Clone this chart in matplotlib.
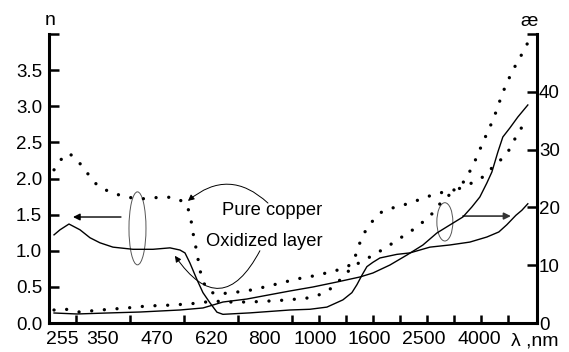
import matplotlib
matplotlib.use('Agg')
import matplotlib.pyplot as plt
from matplotlib.patches import Ellipse
from matplotlib.ticker import FixedLocator
from matplotlib import font_manager

# x is the position along the (non-uniform) wavelength axis, in label steps:
# 0 = left spine, 1 = 350 nm, 2 = 470 nm, ... 8 = 4000 nm
wl_labels = ['255', '350', '470', '620', '800', '1000', '1600', '2500', '4000']
wl_label_pos = [0.25, 1, 2, 3, 4, 4.93, 5.93, 6.95, 7.97]
wl_tick_pos = [0.5 * i for i in range(1, 18)]

# refractive index n, pure copper (dotted)
cu_n_x = [0.093, 0.241, 0.370, 0.519, 0.704, 0.889, 1.130, 1.444, 1.741, 2.056,
          2.296, 2.519, 2.611, 2.667, 2.741, 2.796, 2.870, 2.963, 3.093, 3.407,
          3.778, 4.222, 4.593, 4.963, 5.333, 5.574, 5.667, 5.759, 5.852, 5.981,
          6.167, 6.352, 6.556, 6.833, 7.093, 7.296, 7.556, 7.667, 7.759, 7.833,
          7.926, 8.037, 8.167, 8.296, 8.389, 8.481, 8.574, 8.667, 8.759, 8.870]
cu_n = [2.12, 2.28, 2.35, 2.26, 2.08, 1.91, 1.81, 1.74, 1.72, 1.74,
        1.74, 1.67, 1.52, 1.25, 0.97, 0.73, 0.55, 0.44, 0.40, 0.42,
        0.46, 0.54, 0.61, 0.66, 0.73, 0.80, 0.91, 1.11, 1.26, 1.40,
        1.54, 1.59, 1.63, 1.70, 1.77, 1.81, 1.85, 1.94, 2.05, 2.15,
        2.30, 2.50, 2.71, 2.95, 3.16, 3.32, 3.47, 3.60, 3.72, 3.88]

# refractive index n, oxidized layer (solid)
ox_n_x = [0.093, 0.204, 0.370, 0.574, 0.759, 0.944, 1.185, 1.556, 1.926, 2.241,
          2.426, 2.519, 2.611, 2.741, 2.852, 2.981, 3.111, 3.222, 3.722, 4.463,
          4.833, 5.148, 5.444, 5.611, 5.704, 5.796, 5.889, 6.000, 6.130, 6.444,
          6.685, 7.056, 7.426, 7.796, 8.111, 8.333, 8.481, 8.648, 8.759, 8.870]
ox_n = [1.22, 1.29, 1.37, 1.29, 1.18, 1.11, 1.05, 1.02, 1.02, 1.04,
        1.01, 0.97, 0.83, 0.60, 0.42, 0.28, 0.15, 0.12, 0.14, 0.18,
        0.19, 0.22, 0.32, 0.42, 0.53, 0.66, 0.78, 0.84, 0.90, 0.95,
        0.97, 1.05, 1.08, 1.12, 1.19, 1.26, 1.36, 1.49, 1.56, 1.65]

# absorption index (kappa), pure copper (dotted)
cu_k_x = [0.093, 0.296, 0.537, 0.759, 1.074, 1.444, 1.815, 2.296, 2.796, 3.019,
          3.352, 3.722, 4.093, 4.407, 4.796, 5.056, 5.296, 5.481, 5.759, 5.944,
          6.167, 6.370, 6.537, 6.685, 6.926, 7.111, 7.296, 7.463, 7.648, 7.833,
          8.037, 8.167, 8.259, 8.407, 8.500, 8.574, 8.685, 8.815]
cu_k = [2.25, 2.42, 1.90, 2.08, 2.34, 2.60, 2.94, 3.11, 3.46, 3.81,
        3.63, 3.63, 3.81, 3.98, 4.33, 5.02, 6.40, 8.48, 10.55, 11.42,
        12.63, 13.84, 14.88, 15.74, 17.47, 19.03, 21.28, 22.49, 23.53, 24.22,
        25.26, 26.47, 27.34, 28.55, 29.58, 30.80, 32.87, 34.60]

# absorption index (kappa), oxidized layer (solid)
ox_k_x = [0.093, 0.519, 1.074, 1.685, 2.426, 2.852, 3.037, 3.222, 3.667, 3.963,
          4.463, 4.889, 5.333, 5.759, 6.000, 6.315, 6.630, 6.926, 7.185, 7.426,
          7.667, 7.833, 7.981, 8.111, 8.204, 8.315, 8.407, 8.537, 8.685, 8.870]
ox_k = [1.73, 1.56, 1.73, 1.90, 2.25, 2.60, 3.11, 3.63, 4.15, 4.67,
        5.54, 6.23, 7.09, 7.96, 8.65, 10.03, 11.76, 13.49, 15.57, 16.96,
        18.34, 20.07, 21.80, 24.22, 26.12, 29.58, 32.18, 33.74, 35.64, 37.72]

n_ticks = [0.5 * i for i in range(9)]
k_ticks = [10 * i for i in range(6)]

SANS = ['Liberation Sans', 'DejaVu Sans']
installed = {f.name for f in font_manager.fontManager.ttflist}
NARROW = ['Liberation Sans Narrow'] + SANS if 'Liberation Sans Narrow' in installed else SANS
plt.rcParams['font.family'] = SANS

fig = plt.figure(figsize=(5.69, 3.52), dpi=100)
ax = fig.add_axes([49 / 569, 29 / 352, 488 / 569, 289 / 352])
ax2 = ax.twinx()

dots = dict(color='black', lw=2.4, linestyle=(0, (0.01, 3.8)), dash_capstyle='round')
ax.plot(cu_n_x, cu_n, **dots)
ax.plot(ox_n_x, ox_n, color='black', lw=1.0)
ax2.plot(cu_k_x, cu_k, **dots)
ax2.plot(ox_k_x, ox_k, color='black', lw=1.0)

ax.set_xlim(0, 9.04)
ax.set_ylim(0, 4.0)
ax2.set_ylim(0, 50)

# axes frame
for a in (ax, ax2):
    a.spines['top'].set_visible(False)
    for s in a.spines.values():
        s.set_linewidth(2.2)
ax.spines['right'].set_visible(False)
ax2.spines['left'].set_visible(False)
ax2.spines['bottom'].set_visible(False)

ax.set_yticks(n_ticks)
ax.set_yticklabels([f'{v:.1f}' for v in n_ticks[:-1]] + [''])
ax.tick_params(axis='y', direction='in', length=7, width=1.8, pad=5, labelsize=13.5)
ax2.set_yticks(k_ticks)
ax2.set_yticklabels([str(v) for v in k_ticks[:-1]] + [''])
ax2.tick_params(axis='y', direction='in', length=7, width=1.8, pad=1.5, labelsize=13.5)

ax.set_xticks(wl_label_pos)
ax.set_xticklabels(wl_labels, family=NARROW, fontsize=14)
ax.xaxis.set_minor_locator(FixedLocator(wl_tick_pos))
ax.tick_params(axis='x', which='major', length=0, pad=6)
ax.tick_params(axis='x', which='minor', direction='in', length=6, width=1.8)

ax.text(0.02, 4.18, 'n', fontsize=14, ha='center', va='center', clip_on=False)
ax2.text(8.9, 52.2, 'æ', fontsize=14, ha='center', va='center', clip_on=False)
ax.text(8.55, -0.135, 'λ ,nm', family=NARROW, fontsize=14, ha='left', va='top',
        clip_on=False)

# annotations
ax.text(4.13, 1.56, 'Pure copper', fontsize=13.2, ha='center', va='center')
ax.text(3.98, 1.13, 'Oxidized layer', fontsize=13.2, ha='center', va='center')
ax.annotate('', xy=(2.574, 1.69), xytext=(4.056, 1.66),
            arrowprops=dict(arrowstyle='-|>', color='black', lw=0.7, mutation_scale=9,
                            connectionstyle='arc3,rad=0.44', shrinkA=0, shrinkB=0))
ax.annotate('', xy=(2.333, 0.93), xytext=(3.907, 1.0),
            arrowprops=dict(arrowstyle='-|>', color='black', lw=0.7, mutation_scale=9,
                            connectionstyle='arc3,rad=-0.82', shrinkA=0, shrinkB=0))
ax.add_patch(Ellipse((1.639, 1.31), 0.315, 1.01, fill=False, ec='#555555', lw=0.7))
ax.add_patch(Ellipse((7.333, 1.40), 0.296, 0.53, fill=False, ec='#555555', lw=0.7))
ax.annotate('', xy=(0.444, 1.467), xytext=(1.333, 1.467),
            arrowprops=dict(arrowstyle='-|>', color='black', lw=1.0, mutation_scale=10,
                            shrinkA=0, shrinkB=0))
ax.annotate('', xy=(8.556, 1.48), xytext=(7.667, 1.48),
            arrowprops=dict(arrowstyle='-|>', color='#333333', lw=1.2, mutation_scale=10,
                            shrinkA=0, shrinkB=0))

fig.savefig('out.png', dpi=100, facecolor='white')
plt.close(fig)
